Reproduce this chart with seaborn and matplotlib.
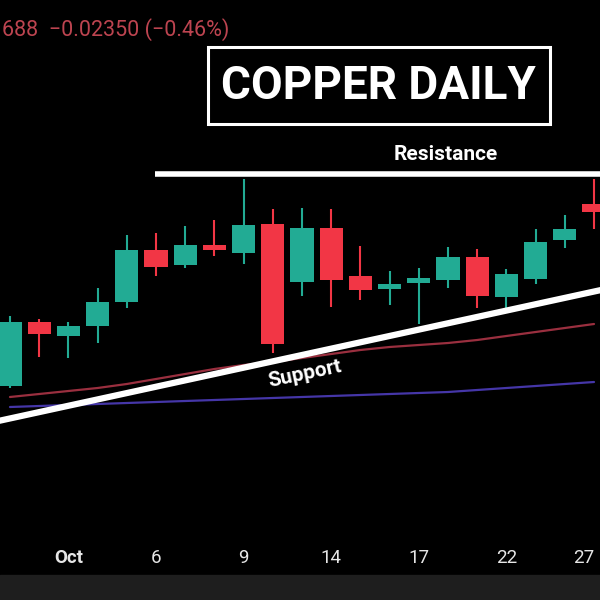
import matplotlib
matplotlib.use("Agg")
import matplotlib.pyplot as plt
import seaborn as sns
import pandas as pd
from matplotlib.patches import Rectangle

# daily candles, Sep 29 .. Oct 27 (trading days)
opens = [4.988, 5.052, 5.038, 5.048, 5.072, 5.124, 5.109, 5.129, 5.121, 5.150, 5.092,
         5.146, 5.098, 5.085, 5.091, 5.094, 5.117, 5.077, 5.095, 5.134, 5.170]
highs = [5.058, 5.055, 5.052, 5.086, 5.139, 5.141, 5.148, 5.154, 5.195, 5.165, 5.166,
         5.165, 5.128, 5.103, 5.106, 5.127, 5.125, 5.105, 5.145, 5.159, 5.195]
lows = [4.986, 5.017, 5.016, 5.031, 5.066, 5.098, 5.106, 5.118, 5.110, 5.021, 5.078,
        5.067, 5.074, 5.069, 5.050, 5.086, 5.066, 5.065, 5.090, 5.126, 5.145]
closes = [5.052, 5.040, 5.048, 5.072, 5.124, 5.107, 5.129, 5.124, 5.149, 5.030, 5.146,
          5.094, 5.084, 5.090, 5.096, 5.117, 5.078, 5.100, 5.132, 5.145, 5.162]

ma_fast = [4.977, 4.980, 4.983, 4.986, 4.990, 4.995, 5.000, 5.005, 5.009, 5.012, 5.016,
           5.020, 5.024, 5.027, 5.029, 5.031, 5.034, 5.038, 5.042, 5.046, 5.050]
ma_slow = [4.967, 4.968, 4.969, 4.970, 4.971, 4.972, 4.973, 4.974, 4.975, 4.976, 4.977,
           4.978, 4.979, 4.980, 4.981, 4.982, 4.984, 4.986, 4.988, 4.990, 4.992]

tick_idx = [2, 5, 8, 11, 14, 17, 20]
tick_labels = ["Oct", "6", "9", "14", "17", "22", "27"]

resistance_x = [4.95, 20.4]
resistance_y = [5.200, 5.200]
support_x = [-0.4, 20.4]
support_y = [4.953, 5.085]

GREEN = "#22ab94"
RED = "#f23645"

df = pd.DataFrame({"open": opens, "high": highs, "low": lows, "close": closes,
                   "ma_fast": ma_fast, "ma_slow": ma_slow})
df["i"] = range(len(df))
df["up"] = df["close"] >= df["open"]

sns.set_theme(style="dark", rc={"axes.facecolor": "black", "figure.facecolor": "black"})
plt.rcParams["font.family"] = ["Roboto", "DejaVu Sans"]

fig = plt.figure(figsize=(6, 6), dpi=100)
ax = fig.add_axes([0, 0, 1, 1])
ax.set_facecolor("black")

# moving averages
sns.lineplot(data=df, x="i", y="ma_slow", ax=ax, color="#4536a8", lw=1.6)
sns.lineplot(data=df, x="i", y="ma_fast", ax=ax, color="#9a2f3f", lw=1.6)

# candles
colors = [GREEN if u else RED for u in df["up"]]
ax.vlines(df["i"], df["low"], df["high"], colors=colors, lw=1.5, zorder=3)
bottoms = df[["open", "close"]].min(axis=1)
heights = (df["close"] - df["open"]).abs().clip(lower=0.004)
ax.bar(df["i"], heights, bottom=bottoms, width=0.8, color=colors,
       edgecolor=colors, linewidth=0, zorder=4)

# trend lines
ax.plot(resistance_x, resistance_y, color="white", lw=4, solid_capstyle="butt", zorder=5)
ax.plot(support_x, support_y, color="white", lw=4.5, solid_capstyle="butt", zorder=5)

ax.set_xlim(-0.342, 20.205)
ax.set_ylim(4.774, 5.374)
ax.set_xlabel("")
ax.set_ylabel("")
ax.set_yticks([])
ax.set_xticks(tick_idx)
ax.set_xticklabels(tick_labels)
ax.tick_params(axis="x", length=0, pad=-37, labelsize=13.5, labelcolor="#e6e6e6")
xlabels = ax.get_xticklabels()
xlabels[0].set_fontweight("bold")
xlabels[-1].set_horizontalalignment("right")
ax.grid(False)
for s in ax.spines.values():
    s.set_visible(False)

# bottom grey strip
ax.add_patch(Rectangle((0, 0), 1, 25 / 600, transform=ax.transAxes,
                       color="#1e1e1e", zorder=6))

# annotations
fig.text(0.004, 1 - 30 / 600, "688  \u22120.02350 (\u22120.46%)", color="#bd4450",
         fontsize=15.5, ha="left", va="center")
fig.patches.append(Rectangle((208 / 600, 1 - 124 / 600), 342 / 600, 77 / 600,
                             transform=fig.transFigure, fill=False,
                             edgecolor="white", lw=2.2))
fig.text(378 / 600, 1 - 86 / 600, "COPPER DAILY", color="white", fontsize=33,
         fontweight="bold", ha="center", va="center")
fig.text(446 / 600, 1 - 155 / 600, "Resistance", color="white", fontsize=15,
         fontweight="semibold", ha="center", va="center")
fig.text(305 / 600, 1 - 374 / 600, "Support", color="white", fontsize=15,
         fontweight="semibold", ha="center", va="center", rotation=12)

fig.savefig("out.png", dpi=100, facecolor="black")
